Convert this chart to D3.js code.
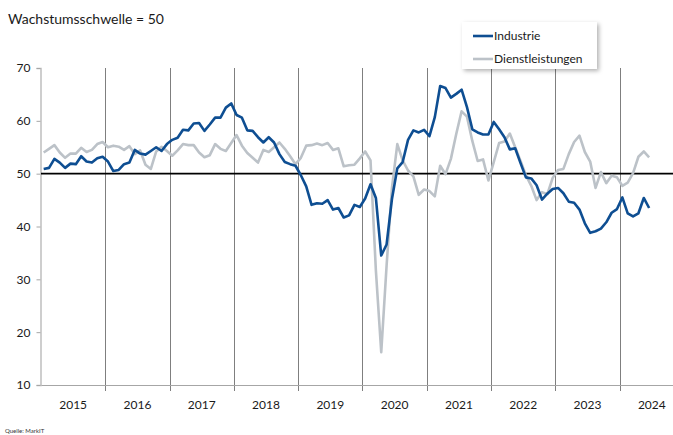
<!DOCTYPE html>
<html>
<head>
<meta charset="utf-8">
<script src="https://cdn.jsdelivr.net/npm/d3@7"></script>
<style>
  body { margin: 0; background: #fff; }
  svg { display: block; font-family: Lato, "Open Sans", sans-serif; }
</style>
</head>
<body>
<div id="chart"></div>
<script>
'use strict';

// monthly PMI values, Jan 2015 .. Jun 2024
const startYear = 2015;
const years = [2015, 2016, 2017, 2018, 2019, 2020, 2021, 2022, 2023, 2024];
const yTicks = [10, 20, 30, 40, 50, 60, 70];

const industrie = [
  50.9, 51.1, 52.8, 52.1, 51.1, 51.9, 51.8, 53.3, 52.3, 52.1, 52.9, 53.2,
  52.3, 50.5, 50.7, 51.8, 52.1, 54.5, 53.8, 53.6, 54.3, 55.0, 54.3, 55.6,
  56.4, 56.8, 58.3, 58.2, 59.5, 59.6, 58.1, 59.3, 60.6, 60.6, 62.5, 63.3,
  61.1, 60.6, 58.2, 58.1, 56.9, 55.9, 56.9, 55.9, 53.7, 52.2, 51.8, 51.5,
  49.7, 47.6, 44.1, 44.4, 44.3, 45.0, 43.2, 43.5, 41.7, 42.1, 44.1, 43.7,
  45.3, 48.0, 45.4, 34.5, 36.6, 45.2, 51.0, 52.2, 56.4, 58.2, 57.8, 58.3,
  57.1, 60.7, 66.6, 66.2, 64.4, 65.1, 65.9, 62.6, 58.4, 57.8, 57.4, 57.4,
  59.8, 58.4, 56.9, 54.6, 54.8, 52.0, 49.3, 49.1, 47.8, 45.1, 46.2, 47.1,
  47.3, 46.3, 44.7, 44.5, 43.2, 40.6, 38.8, 39.1, 39.6, 40.8, 42.6, 43.3,
  45.5, 42.5, 41.9, 42.5, 45.4, 43.5
];

const dienstleistungen = [
  54.0, 54.7, 55.4, 54.0, 53.0, 53.8, 53.8, 54.9, 54.1, 54.5, 55.6, 56.0,
  55.0, 55.3, 55.1, 54.5, 55.2, 53.7, 54.4, 51.7, 50.9, 54.2, 55.1, 54.3,
  53.4, 54.4, 55.6, 55.4, 55.4, 54.0, 53.1, 53.5, 55.6, 54.7, 54.3, 55.8,
  57.3, 55.3, 53.9, 53.0, 52.1, 54.5, 54.1, 55.0, 55.9, 54.7, 53.3, 51.8,
  53.0, 55.3, 55.4, 55.7, 55.4, 55.8, 54.5, 54.8, 51.4, 51.6, 51.7, 52.9,
  54.2, 52.5, 31.7, 16.2, 32.6, 47.3, 55.6, 52.5, 50.6, 49.5, 46.0, 47.0,
  46.7, 45.7, 51.5, 49.9, 52.8, 57.5, 61.8, 60.8, 56.2, 52.4, 52.7, 48.7,
  52.2, 55.8, 56.1, 57.6, 55.0, 52.4, 49.7, 47.7, 45.0, 46.5, 46.1, 49.2,
  50.7, 50.9, 53.7, 56.0, 57.2, 54.1, 52.3, 47.3, 50.3, 48.2, 49.6, 49.3,
  47.7, 48.3, 50.1, 53.2, 54.2, 53.1
];

const width = 673, height = 435;
const svg = d3.select('#chart').append('svg')
  .attr('width', width)
  .attr('height', height);

// month index scale (0 = Jan 2015), one year is about 64.3 px
const x = d3.scaleLinear().domain([0, 120]).range([41, 41 + 120 * 5.358]);
const y = d3.scaleLinear().domain([10, 70]).range([385, 68]);

// title
svg.append('text')
  .attr('x', 8).attr('y', 24)
  .style('font-size', '14px')
  .attr('fill', '#1a1a1a')
  .text('Wachstumsschwelle = 50');

// vertical year gridlines
svg.selectAll('.vgrid')
  .data(years.slice(1))
  .enter()
  .append('line')
    .attr('class', 'vgrid')
    .attr('x1', (d) => Math.round(x((d - startYear) * 12)) + 0.5)
    .attr('x2', (d) => Math.round(x((d - startYear) * 12)) + 0.5)
    .attr('y1', y(70))
    .attr('y2', y(10) + 6)
    .attr('stroke', '#7f7f7f')
    .attr('stroke-width', 1);

// bottom axis line
svg.append('line')
  .attr('x1', 40).attr('x2', width)
  .attr('y1', y(10) + 0.5).attr('y2', y(10) + 0.5)
  .attr('stroke', '#a6a6a6')
  .attr('stroke-width', 1.2);

// y axis
let yAxis = d3.axisLeft(y).tickValues(yTicks).tickSize(4).tickPadding(6);
let gy = svg.append('g')
  .attr('transform', 'translate(40.5,0)')
  .call(yAxis);
gy.select('.domain').attr('stroke', '#bfbfbf').attr('stroke-width', 1.5);
gy.selectAll('.tick line').attr('stroke', '#a6a6a6');
gy.selectAll('.tick text')
  .style('font-size', '12px')
  .style('font-family', 'Lato, "Open Sans", sans-serif')
  .attr('fill', '#1a1a1a');

// year labels, centred in each year
svg.selectAll('.year')
  .data(years)
  .enter()
  .append('text')
    .attr('class', 'year')
    .attr('x', (d) => x((d - startYear) * 12 + 6))
    .attr('y', 409)
    .attr('text-anchor', 'middle')
    .style('font-size', '12px')
    .attr('fill', '#1a1a1a')
    .text((d) => d);

// threshold line at 50
svg.append('line')
  .attr('x1', 41).attr('x2', width)
  .attr('y1', y(50)).attr('y2', y(50))
  .attr('stroke', '#000')
  .attr('stroke-width', 1.6);

const line = d3.line()
  .x((d, i) => x(i + 0.5))
  .y((d) => y(d));

svg.append('path')
  .datum(dienstleistungen)
  .attr('d', line)
  .attr('fill', 'none')
  .attr('stroke', '#bcc2c8')
  .attr('stroke-width', 2.6)
  .attr('stroke-linejoin', 'round');

svg.append('path')
  .datum(industrie)
  .attr('d', line)
  .attr('fill', 'none')
  .attr('stroke', '#0e4e92')
  .attr('stroke-width', 2.6)
  .attr('stroke-linejoin', 'round');

// legend
const defs = svg.append('defs');
const filter = defs.append('filter').attr('id', 'shadow')
  .attr('x', '-10%').attr('y', '-10%').attr('width', '130%').attr('height', '140%');
filter.append('feDropShadow')
  .attr('dx', 2).attr('dy', 2).attr('stdDeviation', 2)
  .attr('flood-color', '#000').attr('flood-opacity', 0.3);

let legend = svg.append('g').attr('transform', 'translate(462,22)');
legend.append('rect')
  .attr('width', 135).attr('height', 47)
  .attr('fill', '#fff')
  .attr('filter', 'url(#shadow)');

const legendItems = [
  { name: 'Industrie', color: '#0e4e92' },
  { name: 'Dienstleistungen', color: '#bcc2c8' }
];
legendItems.forEach(function(item, i) {
  let cy = 14 + i * 23;
  legend.append('line')
    .attr('x1', 11).attr('x2', 31)
    .attr('y1', cy).attr('y2', cy)
    .attr('stroke', item.color)
    .attr('stroke-width', 2.6);
  legend.append('text')
    .attr('x', 32).attr('y', cy + 4)
    .style('font-size', '12px')
    .attr('fill', '#1a1a1a')
    .text(item.name);
});

// source
svg.append('text')
  .attr('x', 5).attr('y', 433)
  .style('font-size', '6px')
  .attr('fill', '#333')
  .text('Quelle: MarkIT');
</script>
</body>
</html>
